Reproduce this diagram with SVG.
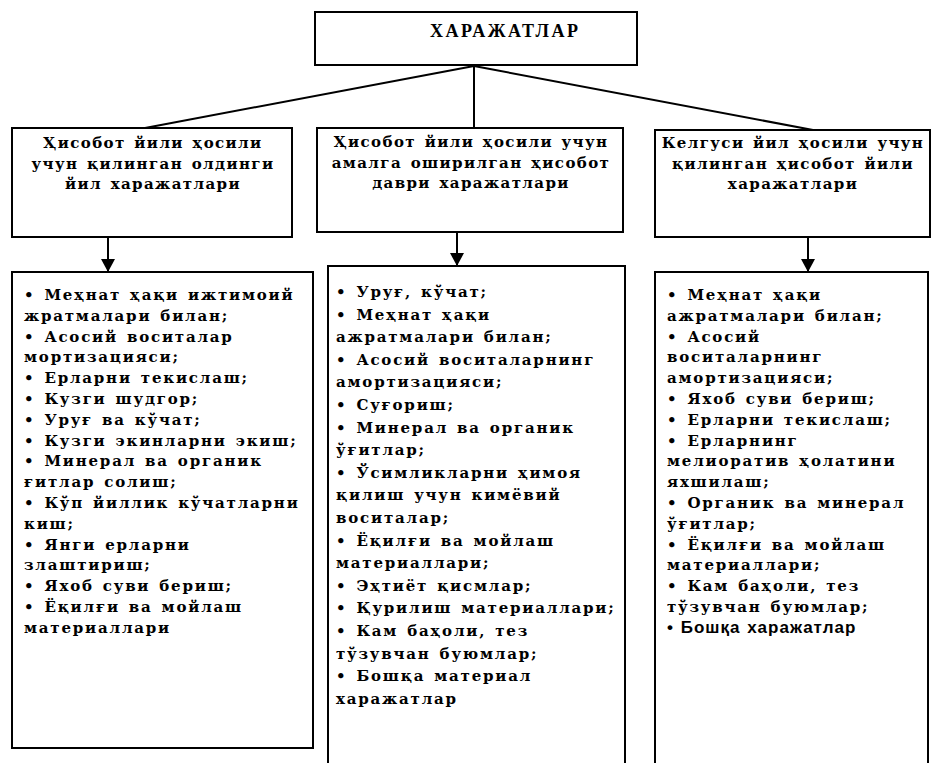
<svg xmlns="http://www.w3.org/2000/svg" width="935" height="763" viewBox="0 0 935 763">
<style>
.box{fill:#fff;stroke:#000;stroke-width:2}
.ln{fill:none;stroke:#000;stroke-width:2}
.t{font-family:"DejaVu Serif","Liberation Serif",serif;font-weight:bold;font-size:15px;letter-spacing:1.4px;word-spacing:2px;fill:#000}
.l{letter-spacing:1.8px}
.h{text-anchor:middle}
.s{font-family:"Liberation Sans",Arial,sans-serif;font-size:17px;letter-spacing:1px;word-spacing:1px}
.title{font-family:"Liberation Serif","Times New Roman",serif;font-weight:bold;font-size:18px;letter-spacing:2.5px;fill:#000}
</style>
<defs>
<marker id="ah" markerUnits="userSpaceOnUse" markerWidth="16" markerHeight="16" refX="13" refY="7" orient="auto">
<path d="M0,0 L13,7 L0,14 Z" fill="#000"/>
</marker>
</defs>
<g id="connectors">
<line class="ln" x1="474" y1="66" x2="145" y2="128"/>
<line class="ln" x1="474" y1="66" x2="474" y2="128"/>
<line class="ln" x1="474" y1="66" x2="813" y2="130"/>
<line class="ln" x1="108" y1="237" x2="108" y2="272" marker-end="url(#ah)"/>
<line class="ln" x1="457" y1="232" x2="457" y2="266" marker-end="url(#ah)"/>
<line class="ln" x1="808" y1="237" x2="808" y2="272" marker-end="url(#ah)"/>
</g>
<g id="root">
<rect class="box" x="315" y="12" width="322" height="53"/>
<text class="title" x="430" y="37">ХАРАЖАТЛАР</text>
</g>
<g id="head-left">
<rect class="box" x="12" y="128" width="280" height="109"/>
<text class="t h" x="153" y="148">Ҳисобот йили ҳосили</text>
<text class="t h" x="153" y="168.5">учун қилинган олдинги</text>
<text class="t h" x="153" y="189">йил харажатлари</text>
</g>
<g id="head-mid">
<rect class="box" x="317" y="128" width="306" height="104"/>
<text class="t h" x="471" y="147">Ҳисобот йили ҳосили учун</text>
<text class="t h" x="471" y="167.5">амалга оширилган ҳисобот</text>
<text class="t h" x="471" y="188">даври харажатлари</text>
</g>
<g id="head-right">
<rect class="box" x="655" y="130" width="275" height="107"/>
<text class="t h" x="793" y="148">Келгуси йил ҳосили учун</text>
<text class="t h" x="793" y="168.5">қилинган ҳисобот йили</text>
<text class="t h" x="793" y="189">харажатлари</text>
</g>
<g id="list-left">
<rect class="box" x="12" y="272" width="301" height="476"/>
<text class="t l" x="24" y="300">• Меҳнат ҳақи ижтимоий</text>
<text class="t l" x="24" y="320.8">жратмалари билан;</text>
<text class="t l" x="24" y="341.6">• Асосий воситалар</text>
<text class="t l" x="24" y="362.4">мортизацияси;</text>
<text class="t l" x="24" y="383.2">• Ерларни текислаш;</text>
<text class="t l" x="24" y="404">• Кузги шудгор;</text>
<text class="t l" x="24" y="424.8">• Уруғ ва кўчат;</text>
<text class="t l" x="24" y="445.6">• Кузги экинларни экиш;</text>
<text class="t l" x="24" y="466.4">• Минерал ва органик</text>
<text class="t l" x="24" y="487.2">ғитлар солиш;</text>
<text class="t l" x="24" y="508">• Кўп йиллик кўчатларни</text>
<text class="t l" x="24" y="528.8">киш;</text>
<text class="t l" x="24" y="549.6">• Янги ерларни</text>
<text class="t l" x="24" y="570.4">злаштириш;</text>
<text class="t l" x="24" y="591.2">• Яхоб суви бериш;</text>
<text class="t l" x="24" y="612">• Ёқилғи ва мойлаш</text>
<text class="t l" x="24" y="632.8">материаллари</text>
</g>
<g id="list-mid">
<rect class="box" x="328" y="266" width="297" height="510"/>
<text class="t l" x="336" y="297">• Уруғ, кўчат;</text>
<text class="t l" x="336" y="319.6">• Меҳнат ҳақи</text>
<text class="t l" x="336" y="342.2">ажратмалари билан;</text>
<text class="t l" x="336" y="364.8">• Асосий воситаларнинг</text>
<text class="t l" x="336" y="387.4">амортизацияси;</text>
<text class="t l" x="336" y="410">• Суғориш;</text>
<text class="t l" x="336" y="432.6">• Минерал ва органик</text>
<text class="t l" x="336" y="455.2">ўғитлар;</text>
<text class="t l" x="336" y="477.8">• Ўсимликларни ҳимоя</text>
<text class="t l" x="336" y="500.4">қилиш учун кимёвий</text>
<text class="t l" x="336" y="523">воситалар;</text>
<text class="t l" x="336" y="545.6">• Ёқилғи ва мойлаш</text>
<text class="t l" x="336" y="568.2">материаллари;</text>
<text class="t l" x="336" y="590.8">• Эҳтиёт қисмлар;</text>
<text class="t l" x="336" y="613.4">• Қурилиш материаллари;</text>
<text class="t l" x="336" y="636">• Кам баҳоли, тез</text>
<text class="t l" x="336" y="658.6">тўзувчан буюмлар;</text>
<text class="t l" x="336" y="681.2">• Бошқа материал</text>
<text class="t l" x="336" y="703.8">харажатлар</text>
</g>
<g id="list-right">
<rect class="box" x="655" y="272" width="273" height="504"/>
<text class="t l" x="667" y="300">• Меҳнат ҳақи</text>
<text class="t l" x="667" y="320.8">ажратмалари билан;</text>
<text class="t l" x="667" y="341.6">• Асосий</text>
<text class="t l" x="667" y="362.4">воситаларнинг</text>
<text class="t l" x="667" y="383.2">амортизацияси;</text>
<text class="t l" x="667" y="404">• Яхоб суви бериш;</text>
<text class="t l" x="667" y="424.8">• Ерларни текислаш;</text>
<text class="t l" x="667" y="445.6">• Ерларнинг</text>
<text class="t l" x="667" y="466.4">мелиоратив ҳолатини</text>
<text class="t l" x="667" y="487.2">яхшилаш;</text>
<text class="t l" x="667" y="508">• Органик ва минерал</text>
<text class="t l" x="667" y="528.8">ўғитлар;</text>
<text class="t l" x="667" y="549.6">• Ёқилғи ва мойлаш</text>
<text class="t l" x="667" y="570.4">материаллари;</text>
<text class="t l" x="667" y="591.2">• Кам баҳоли, тез</text>
<text class="t l" x="667" y="612">тўзувчан буюмлар;</text>
<text class="t s" x="667" y="632.8">• Бошқа харажатлар</text>
</g>
</svg>
